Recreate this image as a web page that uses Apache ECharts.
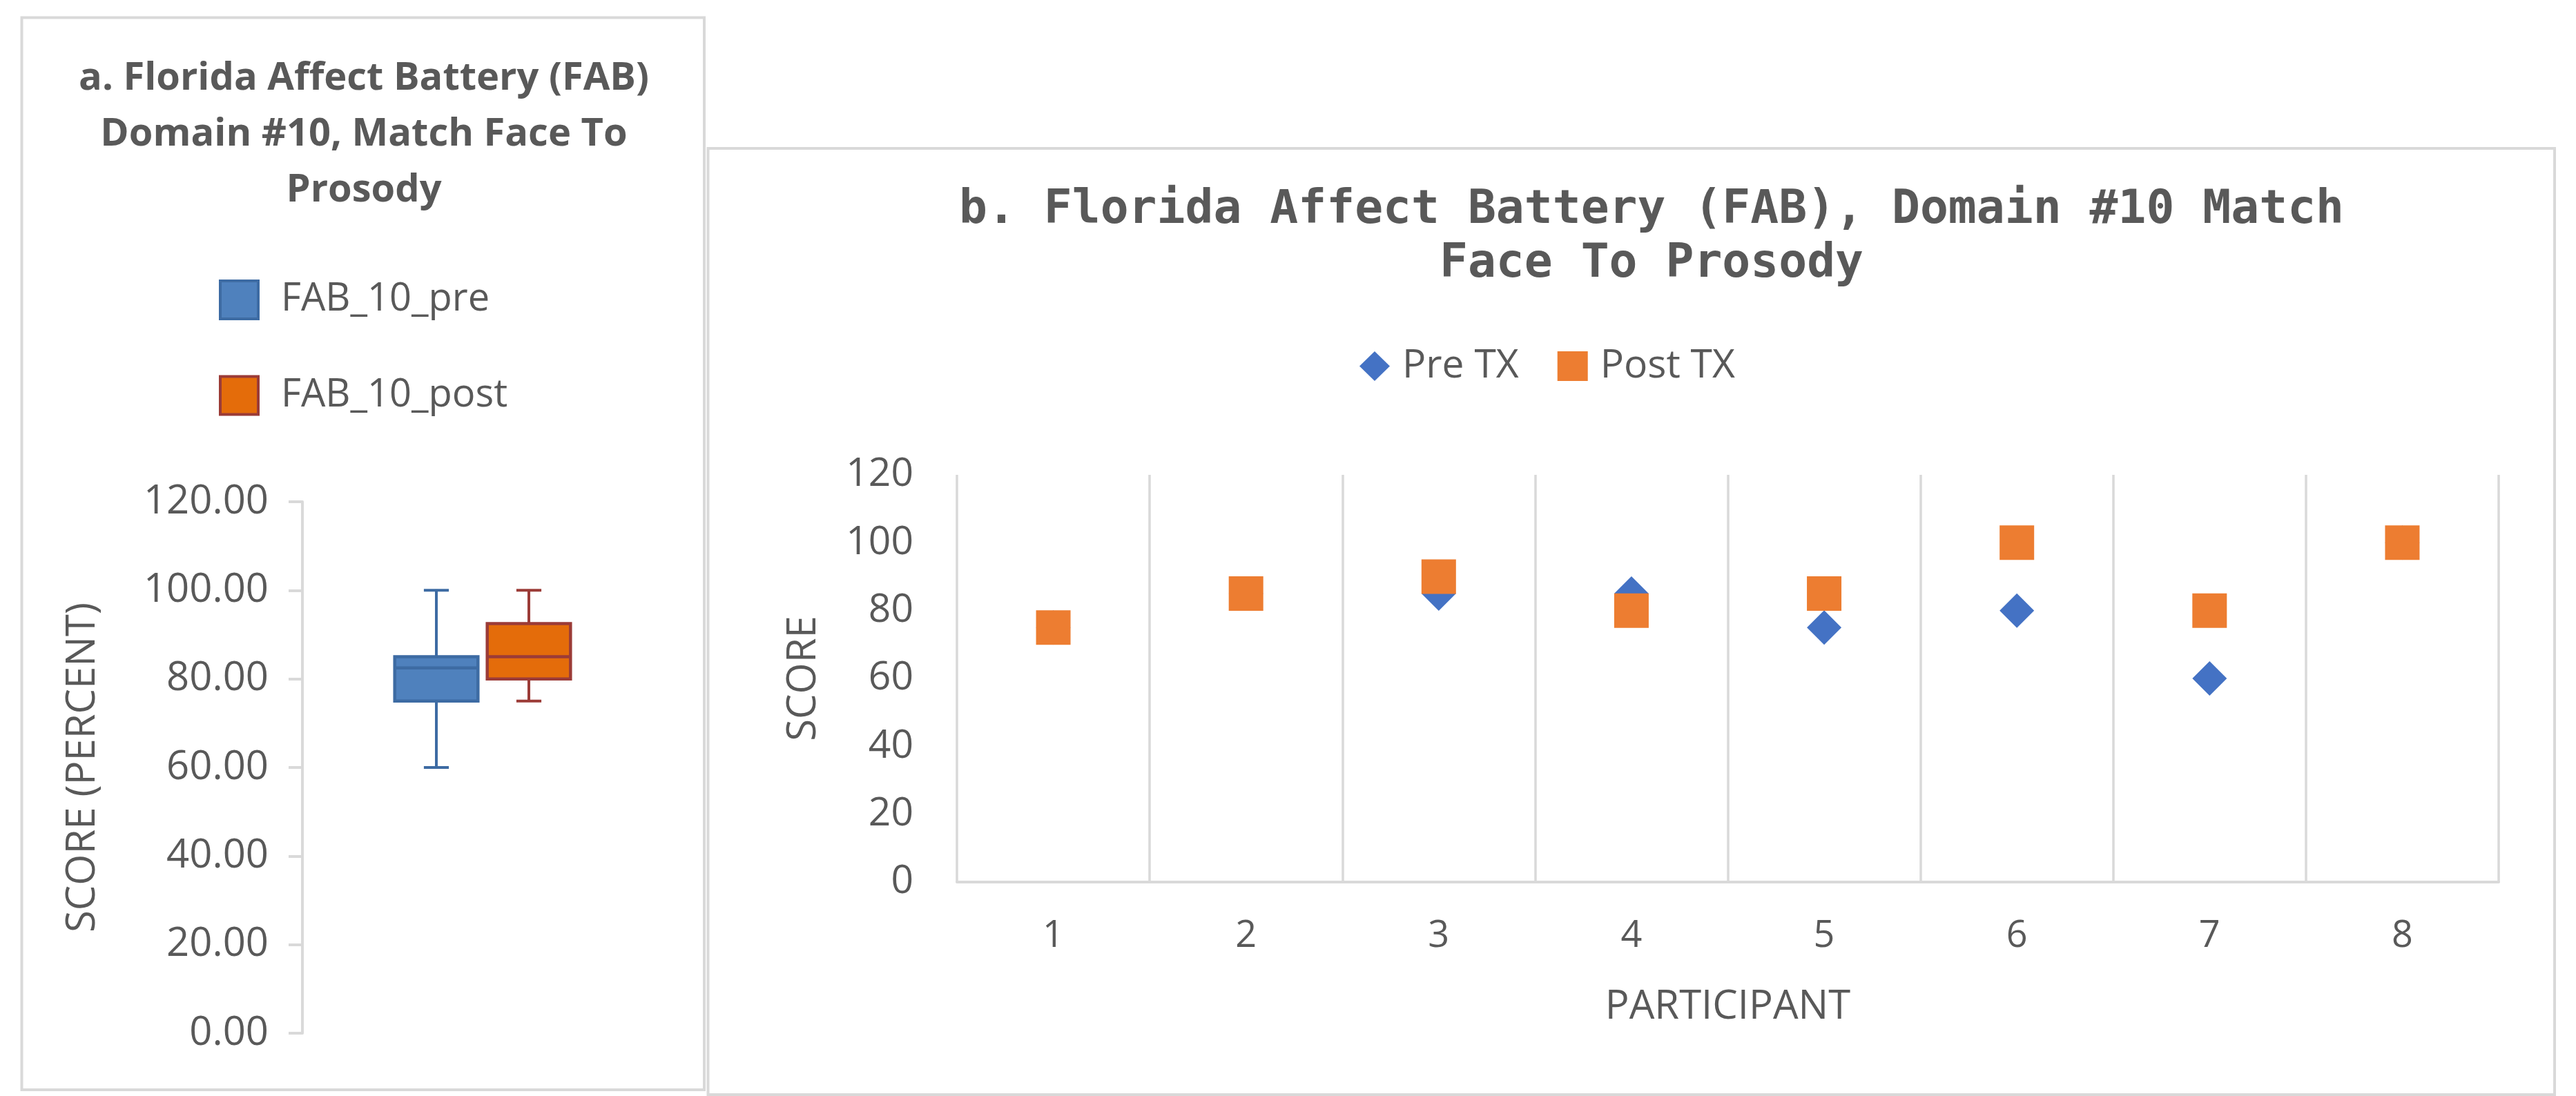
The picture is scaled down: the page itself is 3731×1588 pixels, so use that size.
<!DOCTYPE html>
<html>
<head>
<meta charset="utf-8">
<script src="https://cdn.jsdelivr.net/npm/echarts@6/dist/echarts.min.js"></script>
<style>
html,body{margin:0;padding:0;background:#fff;}
#main{width:3731px;height:1588px;}
</style>
</head>
<body>
<div id="main"></div>
<script>
// ---- data ----
const boxGroups = ['FAB_10_pre', 'FAB_10_post'];
// [min, Q1, median, Q3, max]
const preBox = [60, 75, 82.5, 85, 100];
const postBox = [75, 80, 85, 92.5, 100];
const participants = ['1', '2', '3', '4', '5', '6', '7', '8'];
const preTX = [75, 85, 85, 85, 75, 80, 60, 100];
const postTX = [75, 85, 90, 80, 85, 100, 80, 100];
const scoreTicksMax = 120;
const scoreTickStep = 20;

const TXT = '#595959';
const GRIDC = '#D9D9D9';
const FONT = '"Open Sans", Lato, sans-serif';

function makeBoxRenderer(fill, stroke) {
  return function (params, api) {
    const c = api.value(0);
    const pLo = api.coord([c, api.value(1)]);
    const pQ1 = api.coord([c, api.value(2)]);
    const pMed = api.coord([c, api.value(3)]);
    const pQ3 = api.coord([c, api.value(4)]);
    const pHi = api.coord([c, api.value(5)]);
    const band = api.size([1, 0])[0];
    const half = band * 0.45;
    const cap = band * 0.135;
    const cx = pMed[0];
    const ls = { stroke: stroke, lineWidth: 4 };
    return {
      type: 'group',
      children: [
        { type: 'line', shape: { x1: cx, y1: pQ1[1], x2: cx, y2: pLo[1] }, style: ls },
        { type: 'line', shape: { x1: cx, y1: pQ3[1], x2: cx, y2: pHi[1] }, style: ls },
        { type: 'line', shape: { x1: cx - cap, y1: pLo[1], x2: cx + cap, y2: pLo[1] }, style: ls },
        { type: 'line', shape: { x1: cx - cap, y1: pHi[1], x2: cx + cap, y2: pHi[1] }, style: ls },
        { type: 'rect', shape: { x: cx - half, y: pQ3[1], width: 2 * half, height: pQ1[1] - pQ3[1] },
          style: { fill: fill, stroke: stroke, lineWidth: 4.5 } },
        { type: 'line', shape: { x1: cx - half, y1: pMed[1], x2: cx + half, y2: pMed[1] },
          style: { stroke: stroke, lineWidth: 4.5 } }
      ]
    };
  };
}

const chart = echarts.init(document.getElementById('main'), null, { renderer: 'canvas' });

const option = {
  backgroundColor: '#ffffff',
  animation: false,
  graphic: [
    { type: 'rect', z: -10, silent: true,
      shape: { x: 31.5, y: 25.5, width: 988.5, height: 1553.5 },
      style: { fill: '#ffffff', stroke: GRIDC, lineWidth: 4 } },
    { type: 'rect', z: -10, silent: true,
      shape: { x: 1025.5, y: 215, width: 2674.5, height: 1371 },
      style: { fill: '#ffffff', stroke: GRIDC, lineWidth: 4 } }
  ],
  title: [
    {
      text: 'a. Florida Affect Battery (FAB)\nDomain #10, Match Face To\nProsody',
      left: 527, top: 74, textAlign: 'center', padding: 0,
      textStyle: { fontFamily: FONT, fontWeight: 'bold', fontSize: 56, lineHeight: 81, color: TXT }
    },
    {
      text: 'b. Florida Affect Battery (FAB), Domain #10 Match\nFace To Prosody',
      left: 2392, top: 266, textAlign: 'center', padding: 0,
      textStyle: { fontFamily: '"DejaVu Sans Mono", monospace', fontWeight: 'bold', fontSize: 68, lineHeight: 78, color: TXT }
    }
  ],
  legend: [
    {
      orient: 'vertical', left: 317, top: 405, padding: 0,
      itemWidth: 55, itemHeight: 55, itemGap: 79.5,
      selectedMode: false,
      textStyle: { fontFamily: FONT, fontSize: 56, color: TXT, lineHeight: 55, padding: [0, 0, 0, 28] },
      data: [
        { name: boxGroups[0], icon: 'rect', itemStyle: { color: '#4F81BD', borderColor: '#3D6BA3', borderWidth: 4, opacity: 1 } },
        { name: boxGroups[1], icon: 'rect', itemStyle: { color: '#E46C0A', borderColor: '#9B3B37', borderWidth: 4, opacity: 1 } }
      ]
    },
    {
      orient: 'horizontal', left: 1969, top: 502, padding: 0,
      itemWidth: 44, itemHeight: 43, itemGap: 56,
      selectedMode: false,
      textStyle: { fontFamily: FONT, fontSize: 57, color: TXT, lineHeight: 43, padding: [0, 0, 0, 13] },
      data: [
        { name: 'Pre TX', icon: 'diamond', itemStyle: { color: '#4472C4', opacity: 1 } },
        { name: 'Post TX', icon: 'rect', itemStyle: { color: '#ED7D31', opacity: 1 } }
      ]
    }
  ],
  grid: [
    { left: 565, right: 2898, top: 727, bottom: 91 },
    { left: 1386, right: 112, top: 688, bottom: 310 }
  ],
  xAxis: [
    { gridIndex: 0, type: 'category', data: boxGroups, show: false },
    {
      gridIndex: 1, type: 'category', data: participants,
      name: 'PARTICIPANT', nameLocation: 'middle', nameGap: 152,
      nameTextStyle: { fontFamily: FONT, fontSize: 58, color: TXT },
      axisLine: { show: true, lineStyle: { color: GRIDC, width: 4 } },
      axisTick: { show: false },
      axisLabel: { fontFamily: FONT, fontSize: 54, color: TXT, margin: 52 },
      splitLine: { show: true, lineStyle: { color: GRIDC, width: 3.5 } }
    }
  ],
  yAxis: [
    {
      gridIndex: 0, type: 'value', min: 0, max: scoreTicksMax, interval: scoreTickStep,
      offset: 127,
      name: 'SCORE (PERCENT)', nameLocation: 'middle', nameGap: 289,
      nameTextStyle: { fontFamily: FONT, fontSize: 58, color: TXT },
      axisLine: { show: true, lineStyle: { color: GRIDC, width: 4 } },
      axisTick: { show: true, length: 20, lineStyle: { color: GRIDC, width: 4 } },
      axisLabel: { fontFamily: FONT, fontSize: 58, color: TXT, margin: 49,
        formatter: function (v) { return v.toFixed(2); } },
      splitLine: { show: false }
    },
    {
      gridIndex: 1, type: 'value', min: 0, max: scoreTicksMax, interval: scoreTickStep,
      name: 'SCORE', nameLocation: 'middle', nameGap: 193,
      nameTextStyle: { fontFamily: FONT, fontSize: 58, color: TXT },
      axisLine: { show: false },
      axisTick: { show: false },
      axisLabel: { fontFamily: FONT, fontSize: 57, color: TXT, margin: 63 },
      splitLine: { show: false }
    }
  ],
  series: [
    {
      name: boxGroups[0], type: 'custom', xAxisIndex: 0, yAxisIndex: 0,
      renderItem: makeBoxRenderer('#4F81BD', '#3D6BA3'),
      encode: { x: 0, y: [1, 2, 3, 4, 5] },
      itemStyle: { color: '#4F81BD' },
      data: [[0].concat(preBox)]
    },
    {
      name: boxGroups[1], type: 'custom', xAxisIndex: 0, yAxisIndex: 0,
      renderItem: makeBoxRenderer('#E46C0A', '#9B3B37'),
      encode: { x: 0, y: [1, 2, 3, 4, 5] },
      itemStyle: { color: '#E46C0A' },
      data: [[1].concat(postBox)]
    },
    {
      name: 'Pre TX', type: 'scatter', xAxisIndex: 1, yAxisIndex: 1,
      symbol: 'diamond', symbolSize: 50, z: 2,
      itemStyle: { color: '#4472C4', opacity: 1 },
      emphasis: { disabled: true },
      data: preTX
    },
    {
      name: 'Post TX', type: 'scatter', xAxisIndex: 1, yAxisIndex: 1,
      symbol: 'rect', symbolSize: 50, z: 3,
      itemStyle: { color: '#ED7D31', opacity: 1 },
      emphasis: { disabled: true },
      data: postTX
    }
  ]
};
chart.setOption(option);
</script>
</body>
</html>
